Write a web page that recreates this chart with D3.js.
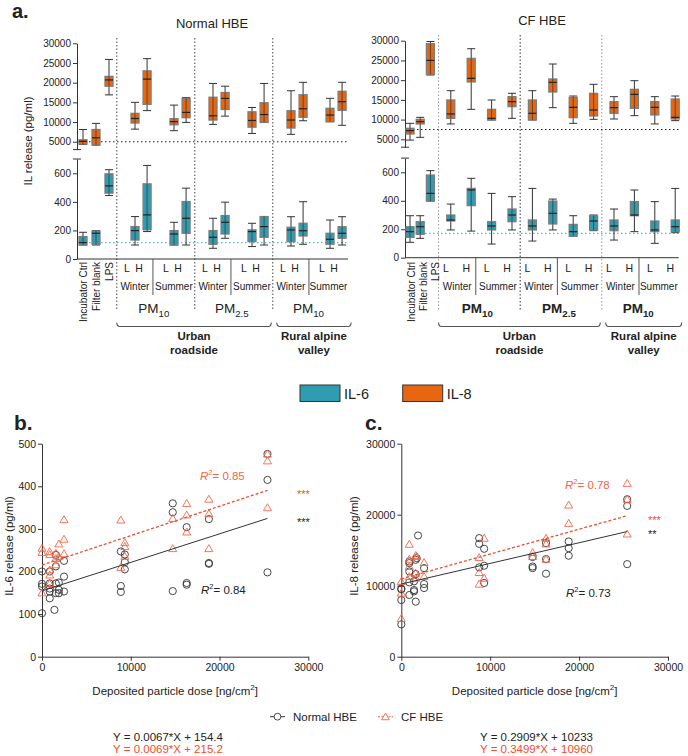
<!DOCTYPE html>
<html><head><meta charset="utf-8">
<script src="https://cdn.jsdelivr.net/npm/d3@7"></script>
<style>
body{margin:0;background:#fff}
svg{display:block}
text{font-family:"Liberation Sans",Arial,Helvetica,sans-serif;fill:#222}
</style></head>
<body><svg id="chart" width="688" height="756"></svg>
<script>
// ---------------- DATA ----------------
const controlLabels = ["Incubator Ctrl", "Filter blank", "LPS"];
const exposureSite   = ["Urban","Urban","Urban","Urban","Urban","Urban","Urban","Urban","Rural","Rural","Rural","Rural"];
const exposurePM     = ["10","10","10","10","2.5","2.5","2.5","2.5","10","10","10","10"];
const exposureSeason = ["Winter","Winter","Summer","Summer","Winter","Winter","Summer","Summer","Winter","Winter","Summer","Summer"];
const exposureLevel  = ["L","H","L","H","L","H","L","H","L","H","L","H"];
const siteNames = {Urban: ["Urban", "roadside"], Rural: ["Rural alpine", "valley"]};
const panelTitles = ["Normal HBE", "CF HBE"];

// box stats: [whisker low, Q1, median, Q3, whisker high]
const normalIL8 = [[4300,4400,5100,5500,8100],[4150,4150,6000,8100,9660],[16900,19100,20700,21600,25900],
  [8200,9750,10900,12200,15000],[12900,14500,20900,23000,26100],[7800,9300,10100,10850,14300],[9900,11100,12450,16000,16200],
  [9400,10500,11600,16300,19800],[11500,13200,16000,17500,19100],[7100,8700,10400,12600,13700],[9900,9900,11900,14900,19800],
  [6880,8480,10510,12870,17950],[10330,11200,13380,16940,20090],[10080,10080,11780,13480,16020],[9170,12980,15160,17800,20090]];
const normalIL6 = [[98,98,115,157,187],[98,103,180,196,199],[444,461,512,596,625],
  [98,133,199,227,297],[192,204,309,526,655],[98,98,175,199,257],[98,180,285,402,496],
  [75,103,152,199,285],[145,175,257,304,398],[87,122,192,204,250],[98,152,227,297,297],
  [91,121,203,222,296],[103,161,198,250,401],[75,103,138,180,273],[98,145,180,226,296]];
const cfIL8 = [[4800,6350,7200,7790,9050],[5500,8890,9480,10070,10570],[21300,21470,25000,29240,29800],
  [8890,10320,11420,14970,17330],[12600,19530,20460,25520,27970],[9900,9900,10320,12600,14970],[10320,13280,14540,15810,16660],
  [9900,9900,11590,14970,17330],[13020,16990,19440,20290,24090],[9050,10490,13110,15640,15980],[10070,10910,12430,16660,18940],
  [10150,11590,13020,14540,15810],[11000,12850,16400,17670,19860],[8890,11170,13110,14540,15810],[9730,10150,10570,15220,15980]];
const cfIL6 = [[108,143,183,218,295],[136,164,218,253,295],[398,398,452,581,612],
  [195,258,265,300,377],[187,366,476,487,558],[96,195,223,253,452],[195,253,300,342,429],
  [117,195,223,265,487],[195,237,312,398,412],[152,152,183,234,295],[190,195,258,295,300],
  [124,190,223,265,342],[183,295,300,394,476],[101,183,195,258,394],[176,183,218,265,487]];
const baselineIL8 = [5000, 7500];   // normal, CF
const baselineIL6 = [115, 171];
const yTicksIL8 = [5000, 10000, 15000, 20000, 25000, 30000];
const yTicksIL6 = [0, 200, 400, 600];

// scatter: [dose ng/cm2, release pg/ml]
const il6Normal = [[0,200],[0,171],[0,165],[0,102],[870,200],[870,172],[870,153],[870,137],[870,160],[1400,110],
  [1560,239],[1560,212],[1560,172],[1560,149],[1900,174],[1900,157],[1900,149],[2480,225],[2480,188],[2480,153],
  [8880,247],[8880,166],[8880,152],[9330,240],[9330,222],[9330,205],[14730,360],[14730,339],[14730,154],
  [16300,304],[16300,173],[16300,169],[18800,323],[18800,220],[18800,218],[25400,476],[25400,415],[25400,198]];
const il6CF = [[0,255],[0,245],[0,150],[870,247],[870,240],[870,204],[870,192],[870,172],[1560,243],[1560,231],[1560,216],
  [1900,265],[1900,235],[2480,322],[2480,276],[2480,242],[8880,321],[8880,210],[9330,268],[9330,259],[9330,236],
  [14730,325],[14730,254],[16300,360],[16300,333],[16300,293],[18800,370],[18800,336],[18800,254],
  [25400,476],[25400,460],[25400,350]];
const il8Normal = [[0,9580],[0,9480],[0,7980],[0,4550],[900,12010],[900,10470],[900,8690],[900,13420],[900,13180],
  [1430,10610],[1430,9200],[1430,9390],[1620,13650],[1620,11640],[1620,7750],[1880,17070],[1730,13890],
  [2560,12480],[2560,10230],[2560,9670],[8760,16700],[8760,15900],[8760,12580],[9320,15200],[9320,12810],[9320,10380],
  [14770,12480],[14770,14040],[14770,12700],[16280,16000],[16280,13750],[16280,11690],
  [18830,16230],[18830,15290],[18830,14220],[25410,22180],[25410,21240],[25410,13040]];
const il8CF = [[0,10610],[0,8970],[0,5400],[900,15850],[900,13750],[900,12720],[900,11310],
  [1620,14270],[1730,14130],[1620,11780],[1620,11080],[2560,13280],[2560,11310],
  [9320,16700],[8760,13980],[8760,11870],[8760,10230],[9320,11080],[14770,14690],[14770,14130],
  [16280,16700],[16280,15900],[16280,13750],[18830,21380],[18830,18800],[25410,24430],[25410,22180],[25410,17300]];
const fitIL6 = [{slope:0.0067, intercept:154.4, r2:"0.84", stars:"***"}, {slope:0.0069, intercept:215.2, r2:"0.85", stars:"***"}];
const fitIL8 = [{slope:0.2909, intercept:10233, r2:"0.73", stars:"**"}, {slope:0.3499, intercept:10960, r2:"0.78", stars:"***"}];
const seriesNames = ["Normal HBE", "CF HBE"];

// ---------------- STYLE ----------------
const ORANGE = "#e8660f", TEAL = "#2f9db1", RED = "#ef4e2b", TRI = "#f26648", TEALDOT = "#45c2b8";
const svg = d3.select("#chart");

function addText(g, x, y, s, o = {}) {
  const t = g.append("text").attr("x", x).attr("y", y).attr("font-size", o.size || 10)
    .attr("text-anchor", o.anchor || "start");
  if (o.bold) t.attr("font-weight", "bold");
  if (o.fill) t.style("fill", o.fill);
  if (o.rotate) t.attr("transform", `rotate(-90,${x},${y})`);
  if (s != null) t.text(s);
  return t;
}
function pmText(t, pm) {
  t.append("tspan").text("PM");
  t.append("tspan").attr("font-size", "0.72em").attr("dy", 4).text(pm);
}

// ---------------- PANEL a ----------------
function boxPanel(c) {
  const g = svg.append("g");
  const u = d3.scaleLinear().domain([0, 1]).range([c.x0, c.x0 + c.unit]);
  const nC = controlLabels.length;
  const slot = i => i < nC ? i : c.start + Math.floor((i - nC) / 2) * c.pairStep + ((i - nC) % 2) * c.within;
  const X = i => u(slot(i));
  const n = nC + exposureLevel.length;
  const axisEnd = X(n - 1) + c.endPad;
  const yT = d3.scaleLinear().domain([3000, 30000]).range(c.topRange);
  const yB = d3.scaleLinear().domain([0, 700]).range(c.botRange);

  const groups = [];
  exposureLevel.forEach((l, j) => {
    const key = exposureSite[j] + exposurePM[j];
    if (!groups.length || groups[groups.length - 1].key !== key)
      groups.push({key, site: exposureSite[j], pm: exposurePM[j], items: []});
    groups[groups.length - 1].items.push(j + nC);
  });
  groups.forEach(gr => gr.dot = u(slot(gr.items[0]) - c.dotOff));
  groups.forEach((gr, k) => {
    gr.end = k < groups.length - 1 ? groups[k + 1].dot : axisEnd;
    const lastWinter = gr.items.filter(i => exposureSeason[i - nC] === "Winter").pop();
    gr.sep = X(lastWinter) + 0.45 * c.unit;
  });

  addText(g, c.titleX, c.titleY, c.title, {size: 13, anchor: "middle"});

  g.selectAll(".gdot").data(groups).join("line")
    .attr("x1", d => d.dot).attr("x2", d => d.dot).attr("y1", c.dotTop).attr("y2", 311)
    .attr("stroke", (d, k) => c.dotColors[k]).attr("stroke-width", 1).attr("stroke-dasharray", "1.5,2");

  g.append("line").attr("x1", c.axisX).attr("x2", axisEnd).attr("y1", yT(c.base8)).attr("y2", yT(c.base8))
    .attr("stroke", "#222").attr("stroke-width", 1.1).attr("stroke-dasharray", "1.5,2.5");
  g.append("line").attr("x1", c.axisX).attr("x2", axisEnd).attr("y1", yB(c.base6)).attr("y2", yB(c.base6))
    .attr("stroke", TEALDOT).attr("stroke-width", 1.2).attr("stroke-dasharray", "1.5,2.5");

  const ax1 = g.append("g").attr("transform", `translate(${c.axisX},0)`)
    .call(d3.axisLeft(yT).tickValues(yTicksIL8).tickSize(4).tickSizeOuter(0).tickPadding(2).tickFormat(d3.format("d")));
  const ax2 = g.append("g").attr("transform", `translate(${c.axisX},0)`)
    .call(d3.axisLeft(yB).tickValues(yTicksIL6).tickSize(4).tickSizeOuter(0).tickPadding(2).tickFormat(d3.format("d")));
  [ax1, ax2].forEach(a => {
    a.selectAll("text").attr("font-size", 10).style("font-family", "Liberation Sans, Arial, sans-serif").style("fill", "#222");
    a.selectAll("line,path").attr("stroke", "#333");
  });
  [yT(3000), yB(700)].forEach(yy => g.append("line").attr("x1", c.axisX - 4).attr("x2", c.axisX + 4)
    .attr("y1", yy).attr("y2", yy).attr("stroke", "#333"));
  g.append("line").attr("x1", c.axisX).attr("x2", axisEnd).attr("y1", yB(0)).attr("y2", yB(0)).attr("stroke", "#333");
  g.selectAll(".sep").data(groups).join("line")
    .attr("x1", d => d.sep).attr("x2", d => d.sep).attr("y1", yB(0)).attr("y2", 295)
    .attr("stroke", "#555").attr("stroke-width", 1);

  function boxes(data, y, fill) {
    const w = 8;
    const bg = g.append("g");
    const b = bg.selectAll("g").data(data).join("g");
    b.append("line").attr("x1", (d, i) => X(i)).attr("x2", (d, i) => X(i)).attr("y1", d => y(d[0])).attr("y2", d => y(d[4]))
      .attr("stroke", "#333").attr("stroke-width", 1);
    b.append("line").attr("x1", (d, i) => X(i) - w / 2).attr("x2", (d, i) => X(i) + w / 2).attr("y1", d => y(d[0])).attr("y2", d => y(d[0])).attr("stroke", "#333");
    b.append("line").attr("x1", (d, i) => X(i) - w / 2).attr("x2", (d, i) => X(i) + w / 2).attr("y1", d => y(d[4])).attr("y2", d => y(d[4])).attr("stroke", "#333");
    b.append("rect").attr("x", (d, i) => X(i) - w / 2).attr("width", w).attr("y", d => y(d[3])).attr("height", d => Math.max(1, y(d[1]) - y(d[3])))
      .attr("fill", fill).attr("stroke", "#7d7d7d").attr("stroke-width", 1.3);
    b.append("line").attr("x1", (d, i) => X(i)).attr("x2", (d, i) => X(i)).attr("y1", d => y(d[3])).attr("y2", d => y(d[1]))
      .attr("stroke", "#333").attr("stroke-width", 0.7);
    b.append("line").attr("x1", (d, i) => X(i) - w / 2).attr("x2", (d, i) => X(i) + w / 2).attr("y1", d => y(d[2])).attr("y2", d => y(d[2]))
      .attr("stroke", "#222").attr("stroke-width", 1.2);
  }
  boxes(c.il8, yT, ORANGE);
  boxes(c.il6, yB, TEAL);

  controlLabels.forEach((s, i) => addText(g, X(i) + 3.5 + c.rotOff + i * c.rotSpread, 262, s, {size: 10, anchor: "end", rotate: true}));
  exposureLevel.forEach((s, j) => addText(g, X(j + nC) + c.lhOff, 272, s, {size: 10.5, anchor: "middle"}));
  groups.forEach(gr => {
    addText(g, (gr.dot + gr.sep) / 2, 290, "Winter", {size: 10, anchor: "middle"});
    addText(g, (gr.sep + gr.end) / 2, 290, "Summer", {size: 10, anchor: "middle"});
    const t = addText(g, (gr.dot + gr.end) / 2 - 2, 312.5, null, {size: 13.5, anchor: "middle", bold: c.boldPM});
    pmText(t, gr.pm);
  });
  const sites = [];
  groups.forEach(gr => {
    if (!sites.length || sites[sites.length - 1].site !== gr.site) sites.push({site: gr.site, x1: gr.dot, x2: gr.end});
    else sites[sites.length - 1].x2 = gr.end;
  });
  sites.forEach((s, k) => {
    const x1 = k === 0 ? s.x1 : s.x1 + 4, x2 = k === sites.length - 1 ? s.x2 + 3 : s.x2 - 1.5;
    g.append("path").attr("d", `M${x1},322.5 Q${x1},326.5 ${x1 + 3},326.5 H${x2 - 3} Q${x2},326.5 ${x2},322.5`)
      .attr("fill", "none").attr("stroke", "#555").attr("stroke-width", 1.1);
    const cx = (x1 + x2) / 2;
    addText(g, cx, 340, siteNames[s.site][0], {size: 11.5, anchor: "middle", bold: true});
    addText(g, cx, 353.5, siteNames[s.site][1], {size: 11.5, anchor: "middle", bold: true});
  });
}

addText(svg, 12, 18, "a.", {size: 20, bold: true});
addText(svg, 32, 141, "IL release (pg/ml)", {size: 11.5, anchor: "middle", rotate: true});

boxPanel({title: panelTitles[0], titleX: 212, titleY: 28, x0: 83, unit: 13, start: 4, pairStep: 3, within: 0.93, endPad: 6,
  axisX: 77, topRange: [149.6, 43.3], botRange: [259, 159], dotOff: 1.4, dotTop: 38, dotColors: ["#444", "#444", "#444"],
  lhOff: -8, rotOff: 0.3, rotSpread: 0.2, boldPM: false, il8: normalIL8, il6: normalIL6, base8: baselineIL8[0], base6: baselineIL6[0]});
boxPanel({title: panelTitles[1], titleX: 542, titleY: 25, x0: 410, unit: 10.2, start: 4, pairStep: 4, within: 2, endPad: 3.5,
  axisX: 405, topRange: [147.2, 40.7], botRange: [257.7, 158.1], dotOff: 1.2, dotTop: 35, dotColors: ["#999", "#333", "#999"],
  lhOff: -5, rotOff: 1, rotSpread: 1.8, boldPM: true, il8: cfIL8, il6: cfIL6, base8: baselineIL8[1], base6: baselineIL6[1]});

const legA = [{name: "IL-6", fill: TEAL, x: 300}, {name: "IL-8", fill: ORANGE, x: 402.7}];
legA.forEach(l => {
  svg.append("rect").attr("x", l.x).attr("y", 385).attr("width", 40).attr("height", 16.5).attr("fill", l.fill).attr("stroke", "#333").attr("stroke-width", 1);
  addText(svg, l.x + 44, 398.5, l.name, {size: 14.5});
});

// ---------------- PANELS b, c ----------------
function scatterPanel(c) {
  const g = svg.append("g");
  const x = d3.scaleLinear().domain([0, 30000]).range(c.xRange);
  const y = d3.scaleLinear().domain(c.yDomain).range([656.7, 443.7]);
  addText(g, c.letterX, 430, c.letter, {size: 21, bold: true});
  const ax = g.append("g").attr("transform", `translate(${c.xRange[0]},0)`)
    .call(d3.axisLeft(y).tickValues(c.yTicks).tickSize(4).tickSizeOuter(0).tickPadding(2).tickFormat(d3.format("d")));
  const bx = g.append("g").attr("transform", `translate(0,${y(0)})`)
    .call(d3.axisBottom(x).tickValues([0, 10000, 20000, 30000]).tickSize(4).tickSizeOuter(0).tickPadding(3).tickFormat(d3.format("d")));
  [ax, bx].forEach(a => {
    a.selectAll("text").attr("font-size", 10.5).style("font-family", "Liberation Sans, Arial, sans-serif").style("fill", "#222");
    a.selectAll("line,path").attr("stroke", "#333");
  });
  addText(g, c.yTitleX, 546, c.yTitle, {size: 11.5, anchor: "middle", rotate: true});
  const xt = addText(g, (c.xRange[0] + c.xRange[1]) / 2, 695, null, {size: 11.5, anchor: "middle"});
  xt.append("tspan").text("Deposited particle dose [ng/cm");
  xt.append("tspan").attr("font-size", "0.7em").attr("dy", -5).text("2");
  xt.append("tspan").attr("dy", 5).text("]");

  g.selectAll(".circ").data(c.normal).join("circle")
    .attr("cx", d => x(d[0])).attr("cy", d => y(d[1])).attr("r", 3.6)
    .attr("fill", "none").attr("stroke", "#333").attr("stroke-width", 0.9);
  const tri = d3.symbol(d3.symbolTriangle).size(28);
  g.selectAll(".tri").data(c.cf).join("path")
    .attr("d", tri).attr("transform", d => `translate(${x(d[0])},${y(d[1]) + 0.8})`)
    .attr("fill", "none").attr("stroke", TRI).attr("stroke-width", 0.9);

  const maxDose = d3.max(c.normal.concat(c.cf), d => d[0]);
  c.fits.forEach((f, k) => {
    g.append("line").attr("x1", x(0)).attr("x2", x(maxDose))
      .attr("y1", y(f.intercept)).attr("y2", y(f.intercept + f.slope * maxDose))
      .attr("stroke", k ? RED : "#333").attr("stroke-width", k ? 1.3 : 1)
      .attr("stroke-dasharray", k ? "3,2" : null);
    const lp = c.r2Pos[k];
    const t = addText(g, lp[0], lp[1], null, {size: 11.5, fill: k ? TRI : "#222"});
    t.append("tspan").attr("font-style", "italic").text("R");
    t.append("tspan").attr("font-size", "0.65em").attr("dy", -5).text("2");
    t.append("tspan").attr("dy", 5).text("= " + f.r2);
    const sp = c.starPos[k];
    addText(g, sp[0], sp[1], f.stars, {size: 11, fill: k ? RED : "#222"});
    const eqs = `Y = ${f.slope}*X + ${f.intercept}`;
    addText(g, c.eqX, k ? 753 : 741, eqs, {size: 11.5, anchor: "middle", fill: k ? RED : "#222"});
  });
}

scatterPanel({letter: "b.", letterX: 14, xRange: [42, 308.3], yDomain: [0, 500], yTicks: [0, 100, 200, 300, 400, 500],
  yTitle: "IL-6 release (pg/ml)", yTitleX: 12.5, normal: il6Normal, cf: il6CF, fits: fitIL6,
  r2Pos: [[201, 594], [200, 480]], starPos: [[297, 526], [297, 498]], eqX: 168});
scatterPanel({letter: "c.", letterX: 365, xRange: [401.3, 668], yDomain: [0, 30000], yTicks: [0, 10000, 20000, 30000],
  yTitle: "IL-8 release (pg/ml)", yTitleX: 357.5, normal: il8Normal, cf: il8CF, fits: fitIL8,
  r2Pos: [[566, 597], [565, 489]], starPos: [[648, 538], [648, 524]], eqX: 536.5});

const legB = [{name: seriesNames[0], x: 270, color: "#333", dash: null, sym: "circle"},
              {name: seriesNames[1], x: 378, color: TRI, dash: "2,1.5", sym: "tri"}];
legB.forEach(l => {
  svg.append("line").attr("x1", l.x).attr("x2", l.x + 15).attr("y1", 716.7).attr("y2", 716.7)
    .attr("stroke", l.color).attr("stroke-width", 1).attr("stroke-dasharray", l.dash);
  if (l.sym === "circle")
    svg.append("circle").attr("cx", l.x + 7.5).attr("cy", 716.7).attr("r", 3.4).attr("fill", "#fff").attr("stroke", l.color).attr("stroke-width", 0.9);
  else
    svg.append("path").attr("d", d3.symbol(d3.symbolTriangle).size(26)).attr("transform", `translate(${l.x + 7.5},717.5)`)
      .attr("fill", "#fff").attr("stroke", l.color).attr("stroke-width", 0.9);
  addText(svg, l.x + 23, 721, l.name, {size: 11.5});
});
</script></body></html>
